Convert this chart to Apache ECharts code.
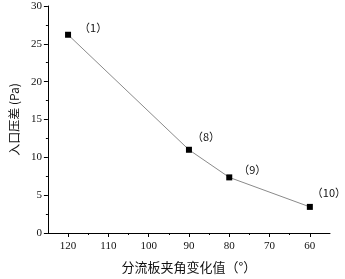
<!DOCTYPE html>
<html>
<head>
<meta charset="utf-8">
<script src="https://cdn.jsdelivr.net/npm/echarts@6/dist/echarts.min.js"></script>
<style>
html, body { margin: 0; padding: 0; background: #fff; }
#chart { width: 345px; height: 279px; }
</style>
</head>
<body>
<div id="chart"></div>
<script>
var angles = [120, 90, 80, 60];
var pressure = [26.2, 11.0, 7.35, 3.45];
var pointNames = ['（1）', '（8）', '（9）', '（10）'];
var xTicks = [60, 70, 80, 90, 100, 110, 120];
var xMinorTicks = [60, 65, 70, 75, 80, 85, 90, 95, 100, 105, 110, 115, 120];
var labelOffsets = [[3, -7], [-5, -13], [1, -8], [-6, -14]];

var chart = echarts.init(document.querySelector('#chart'), null);
var serif = '"Liberation Serif", "DejaVu Serif", serif';
var cjk = '"Noto Sans CJK SC", sans-serif';

var points = angles.map(function (a, i) {
    return {
        value: [a, pressure[i]],
        label: { offset: labelOffsets[i] },
        name: pointNames[i]
    };
});

var option = {
    animation: false,
    grid: {
        top: 6,
        left: 35,
        right: 15,
        bottom: 36,
        containLabel: false
    },
    xAxis: [
        {
            type: 'value',
            inverse: true,
            min: 55,
            max: 125,
            interval: 5,
            name: '分流板夹角变化值（°）',
            nameLocation: 'middle',
            nameGap: 28,
            nameTextStyle: { fontSize: 13, color: '#111', fontFamily: cjk },
            axisLine: { lineStyle: { color: '#000', width: 1 } },
            axisTick: { inside: false, length: 4, customValues: xTicks, lineStyle: { color: '#000' } },
            axisLabel: {
                fontSize: 11, color: '#111', fontFamily: serif, margin: 8,
                customValues: xTicks
            },
            splitLine: { show: false }
        },
        {
            type: 'value',
            inverse: true,
            min: 55,
            max: 125,
            interval: 5,
            position: 'bottom',
            axisLine: { show: false },
            axisTick: { show: true, inside: false, length: 2, customValues: xMinorTicks, lineStyle: { color: '#000' } },
            axisLabel: { show: false },
            splitLine: { show: false }
        }
    ],
    yAxis: {
        type: 'value',
        min: 0,
        max: 30,
        interval: 5,
        name: '入口压差 (Pa)',
        nameLocation: 'middle',
        nameGap: 24,
        nameTextStyle: { fontSize: 12, color: '#111', fontFamily: cjk },
        axisLine: { show: true, lineStyle: { color: '#000', width: 1 } },
        axisTick: { show: true, inside: false, length: 4, lineStyle: { color: '#000' } },
        minorTick: { show: true, splitNumber: 2, length: 2, lineStyle: { color: '#000' } },
        axisLabel: { fontSize: 11, color: '#111', fontFamily: serif, margin: 6 },
        splitLine: { show: false }
    },
    series: [
        {
            type: 'line',
            data: points,
            symbol: 'rect',
            symbolSize: 6,
            itemStyle: { color: '#000' },
            lineStyle: { color: '#8a8a8a', width: 1 },
            label: {
                show: true,
                position: 'right',
                fontSize: 11,
                color: '#111',
                fontFamily: cjk,
                formatter: function (d) { return d.name; }
            }
        }
    ]
};

chart.setOption(option);

window.addEventListener('resize', function () {
    chart.resize();
});
</script>
</body>
</html>
